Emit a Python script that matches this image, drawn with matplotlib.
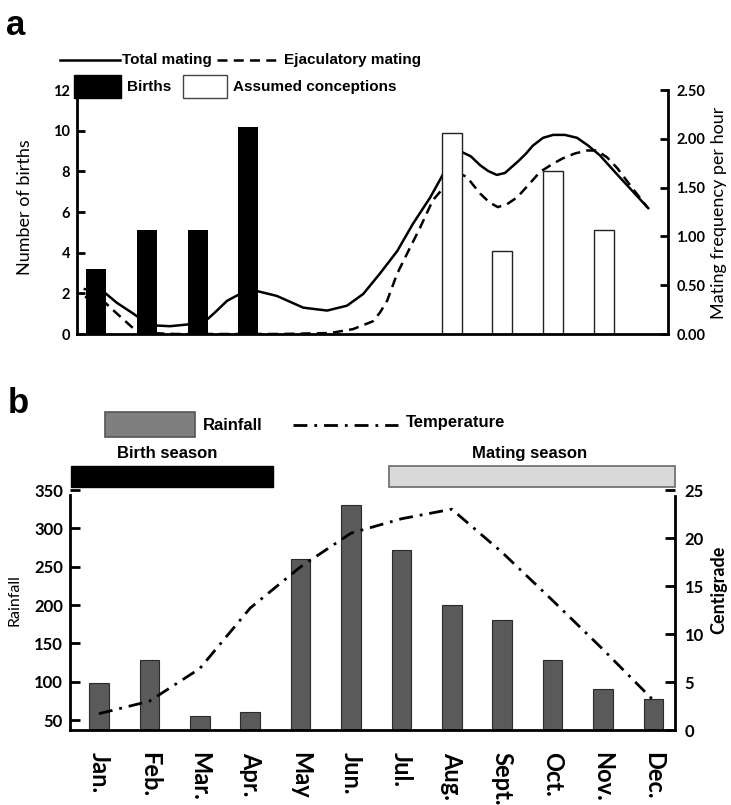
import matplotlib
matplotlib.use("Agg")
import matplotlib.pyplot as plt
import matplotlib.transforms as mtransforms
from matplotlib.patches import Rectangle
from matplotlib.lines import Line2D

W, H = 731, 805

months = ['Jan.', 'Feb.', 'Mar.', 'Apr.', 'May', 'Jun.', 'Jul.', 'Aug.',
          'Sept.', 'Oct.', 'Nov.', 'Dec.']

# panel a: births / assumed conceptions (left axis)
birth_months = [0, 1, 2, 3]
births = [3.2, 5.1, 5.1, 10.2]
conception_months = [7, 8, 9, 10]
conceptions = [9.9, 4.1, 8.0, 5.1]

# panel a: mating frequency per hour (right axis)
total_x = [-0.22, 0.18, 0.41, 0.73, 1.06, 1.46, 1.85, 2.19, 2.34, 2.58, 2.87,
           3.17, 3.56, 4.08, 4.55, 4.94, 5.26, 5.59, 5.93, 6.24, 6.58, 6.91,
           7.07, 7.22, 7.38, 7.56, 7.72, 7.89, 8.05, 8.29, 8.45, 8.60, 8.80,
           9.00, 9.23, 9.47, 9.69, 9.92, 10.32, 10.87]
total_y = [0.46, 0.42, 0.32, 0.21, 0.09, 0.08, 0.10, 0.15, 0.22, 0.34, 0.42,
           0.44, 0.39, 0.27, 0.24, 0.29, 0.41, 0.62, 0.85, 1.13, 1.40, 1.71,
           1.81, 1.86, 1.82, 1.73, 1.67, 1.63, 1.65, 1.76, 1.84, 1.93, 2.01,
           2.04, 2.04, 2.01, 1.93, 1.83, 1.60, 1.29]
ejac_x = [-0.22, 0.14, 0.41, 0.73, 1.06, 1.56, 3.62, 4.61, 5.06, 5.45, 5.59,
          5.73, 5.93, 6.12, 6.38, 6.63, 6.91, 7.01, 7.11, 7.21, 7.30, 7.42,
          7.56, 7.74, 7.91, 8.09, 8.29, 8.50, 8.74, 8.98, 9.19, 9.43, 9.67,
          9.86, 10.06, 10.26, 10.55, 10.85]
ejac_y = [0.38, 0.34, 0.21, 0.06, 0.01, 0.0, 0.0, 0.01, 0.05, 0.13, 0.22,
          0.34, 0.62, 0.82, 1.09, 1.37, 1.54, 1.60, 1.63, 1.63, 1.61, 1.53,
          1.44, 1.35, 1.30, 1.33, 1.40, 1.52, 1.66, 1.74, 1.80, 1.85, 1.88,
          1.88, 1.81, 1.70, 1.50, 1.30]

# panel b: rainfall and temperature
rainfall = [98, 128, 55, 60, 260, 330, 272, 200, 180, 128, 90, 77]
temperature = [1.7, 3.0, 6.4, 12.7, 17.0, 20.5, 22.0, 23.0, 18.5, 13.5, 8.4, 3.1]
birth_season = (-0.55, 3.45)
mating_season = (5.75, 11.43)

arial = ['Liberation Sans', 'DejaVu Sans']
calib = ['Lato', 'DejaVu Sans']


def fx(x):
    return x / W


def fy(y):
    return 1 - y / H


fig = plt.figure(figsize=(W / 100, H / 100), dpi=100)

# ---------------- panel a ----------------
ax = fig.add_axes([fx(77), fy(334), (668 - 77) / W, (334 - 90) / H])
ax2 = ax.twinx()
ax.set_xlim(-0.374, 11.26)
ax.set_ylim(0, 12)
ax2.set_ylim(0, 2.5)

ax.bar(conception_months, conceptions, width=0.39, color='white',
       edgecolor='#222222', linewidth=1.0, zorder=1)
ax2.plot(total_x, total_y, color='black', lw=1.8, zorder=2,
         solid_joinstyle='round')
ax2.plot(ejac_x, ejac_y, color='black', lw=1.8, linestyle=(0, (4, 2.5)),
         zorder=2)
ax.set_zorder(ax2.get_zorder() + 1)
ax.patch.set_visible(False)
ax.bar(birth_months, births, width=0.39, color='black', zorder=3)

for a in (ax, ax2):
    a.spines['top'].set_visible(False)
    for s in a.spines.values():
        s.set_linewidth(2.0)
    a.set_xticks([])
ax.spines['right'].set_visible(False)
ax2.spines['left'].set_visible(False)
ax2.spines['bottom'].set_visible(False)

ax.set_yticks(range(0, 13, 2))
ax.tick_params(axis='y', direction='in', length=6, width=2.0, pad=5)
ax2.set_yticks([0, 0.5, 1.0, 1.5, 2.0, 2.5])
ax2.set_yticklabels(['0.00', '0.50', '1.00', '1.50', '2.00', '2.50'])
ax2.tick_params(axis='y', direction='in', length=6, width=2.0, pad=6)
for lab in ax.get_yticklabels() + ax2.get_yticklabels():
    lab.set_family(calib)
    lab.set_fontweight('bold')
    lab.set_fontsize(10.5)

fig.text(fx(25), fy(207), 'Number of births', rotation=90, ha='center',
         va='center', family=calib, fontsize=13)
fig.text(fx(719), fy(213), 'Mating frequency per hour', rotation=90,
         ha='center', va='center', family=calib, fontsize=13)

fig.text(fx(6), fy(35), 'a', family=arial, fontweight='bold', fontsize=25)

# legend of panel a
fig.add_artist(Line2D([fx(60), fx(120)], [fy(60), fy(60)], color='black', lw=1.8))
fig.text(fx(122), fy(60), 'Total mating', family=arial, fontweight='bold',
         fontsize=11, va='center')
fig.add_artist(Line2D([fx(217), fx(280)], [fy(60), fy(60)], color='black',
                      lw=1.8, linestyle=(0, (4, 2.5))))
fig.text(fx(284), fy(60), 'Ejaculatory mating', family=arial,
         fontweight='bold', fontsize=11, va='center')
fig.add_artist(Rectangle((fx(74), fy(98)), (121 - 74) / W, 23 / H,
                         transform=fig.transFigure, facecolor='black',
                         edgecolor='black'))
fig.text(fx(127), fy(87), 'Births', family=arial, fontweight='bold',
         fontsize=11, va='center')
fig.add_artist(Rectangle((fx(183), fy(98)), (227 - 183) / W, 23 / H,
                         transform=fig.transFigure, facecolor='white',
                         edgecolor='#444444', lw=1.0))
fig.text(fx(233), fy(87), 'Assumed conceptions', family=arial,
         fontweight='bold', fontsize=11, va='center')

# ---------------- panel b ----------------
bx = fig.add_axes([fx(70), fy(730), (675 - 70) / W, (730 - 490) / H])
bx2 = bx.twinx()
bx.set_xlim(-0.575, 11.43)
bx.set_ylim(37, 350)
bx2.set_ylim(0, 25)

x = list(range(12))
bx.bar(x, rainfall, width=0.39, color='#5a5a5a', edgecolor='#2a2a2a',
       linewidth=0.8)
bx2.plot(x, temperature, color='black', lw=2.0,
         linestyle=(0, (5, 2.5, 1, 2.5)))

for a in (bx, bx2):
    a.spines['top'].set_visible(False)
    for s in a.spines.values():
        s.set_linewidth(2.0)
bx.spines['right'].set_visible(False)
bx2.spines['left'].set_visible(False)
bx2.spines['bottom'].set_visible(False)
bx.spines['left'].set_bounds(37, 344)
bx2.spines['right'].set_bounds(0, 24.4)

bx.set_xticks(x)
bx.set_xticklabels(months, rotation=-90, family=calib, fontweight='bold',
                   fontsize=17)
bx.tick_params(axis='x', length=0, pad=16)
bx.set_yticks(range(50, 351, 50))
bx.tick_params(axis='y', direction='in', length=7, width=2.0, pad=5)
bx2.set_yticks(range(0, 26, 5))
bx2.tick_params(axis='y', direction='in', length=7, width=2.0, pad=7)
for lab in bx.get_yticklabels() + bx2.get_yticklabels():
    lab.set_family(calib)
    lab.set_fontweight('bold')
    lab.set_fontsize(12)

fig.text(fx(15), fy(600), 'Rainfall', rotation=90, ha='center', va='center',
         family=calib, fontsize=11.5)
fig.text(fx(719), fy(590), 'Centigrade', rotation=90, ha='center',
         va='center', family=calib, fontweight='bold', fontsize=13)

fig.text(fx(8), fy(413), 'b', family=arial, fontweight='bold', fontsize=25)

# season bars above panel b (x in months, y in figure)
blend = mtransforms.blended_transform_factory(bx.transData, fig.transFigure)
bx.add_patch(Rectangle((birth_season[0], fy(487)),
                       birth_season[1] - birth_season[0], 21 / H,
                       transform=blend, facecolor='black', edgecolor='black',
                       clip_on=False))
bx.add_patch(Rectangle((mating_season[0], fy(487)),
                       mating_season[1] - mating_season[0], 21 / H,
                       transform=blend, facecolor='#d9d9d9',
                       edgecolor='#6a6a6a', lw=1.2, clip_on=False))
bx.text(sum(birth_season) / 2 - 0.1, fy(453), 'Birth season', transform=blend,
        ha='center', va='center', family=arial, fontweight='bold', fontsize=12)
bx.text(sum(mating_season) / 2 - 0.05, fy(453), 'Mating season',
        transform=blend, ha='center', va='center', family=arial,
        fontweight='bold', fontsize=12)

# legend of panel b
fig.add_artist(Rectangle((fx(105), fy(437)), 90 / W, 25 / H,
                         transform=fig.transFigure, facecolor='#7f7f7f',
                         edgecolor='#555555', lw=1.2))
fig.text(fx(203), fy(425), 'Rainfall', family=arial, fontweight='bold',
         fontsize=12, va='center')
fig.add_artist(Line2D([fx(293), fx(398)], [fy(425), fy(425)], color='black',
                      lw=2.0, linestyle=(0, (5, 2.5, 1, 2.5))))
fig.text(fx(406), fy(423), 'Temperature', family=arial, fontweight='bold',
         fontsize=12, va='center')

fig.savefig('out.png', dpi=100)
